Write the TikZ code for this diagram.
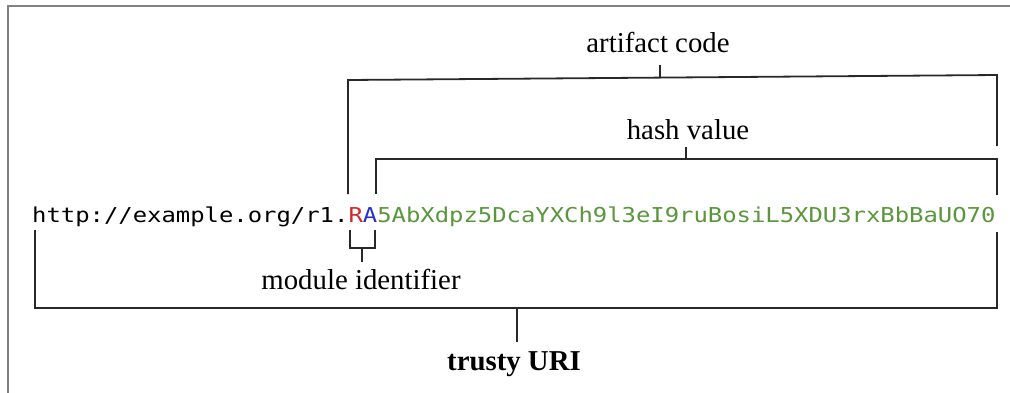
\documentclass[tikz,border=0pt]{standalone}
\usepackage{fontspec}
\setmainfont{Liberation Serif}
\newfontfamily\urifont{DejaVu Sans Mono}
\definecolor{modred}{RGB}{210,40,40}
\definecolor{modblue}{RGB}{40,50,200}
\definecolor{hashgreen}{RGB}{90,150,60}
\definecolor{framegray}{RGB}{130,130,130}
\definecolor{linegray}{RGB}{40,40,40}
\tikzset{
  brk/.style={draw=linegray, line width=1.8pt, line cap=butt, line join=miter},
  lbl/.style={inner sep=0pt, font=\fontsize{28.8}{32}\selectfont},
}
\begin{document}
\begin{tikzpicture}[x=1pt,y=-1pt]
\useasboundingbox (0,0) rectangle (1010,392);
\fill[white] (0,0) rectangle (1010,392);
\draw[framegray, line width=1.5pt] (8,400) -- (8,6) -- (1020,6);

% URI text
\node[anchor=base west, inner sep=0pt] (uri) at (32,222)
  {\scalebox{1.165}[1]{\urifont\fontsize{20.5}{24}\selectfont http://example.org/r1.\textcolor{modred}{R}\textcolor{modblue}{A}\textcolor{hashgreen}{5AbXdpz5DcaYXCh9l3eI9ruBosiL5XDU3rxBbBaUO70}}};

% labels
\node[lbl] (art) at (658,42) {artifact code};
\node[lbl] (hash) at (688,130) {hash value};
\node[lbl] (mod) at (361,279) {module identifier};
\node[lbl, font=\fontsize{28.8}{32}\selectfont\bfseries] (trusty) at (514,364) {trusty URI};

% artifact code bracket
\coordinate (a1) at (348,194);
\coordinate (a2) at (348,80);
\coordinate (a3) at (997,75);
\coordinate (a4) at (997,146);
\draw[brk] (a1) -- (a2) -- (a3) -- (a4);
\draw[brk] (660,78) -- (660,65);

% hash value bracket
\coordinate (h1) at (376,194);
\coordinate (h2) at (376,159);
\coordinate (h3) at (997,159);
\coordinate (h4) at (997,195);
\draw[brk] (h1) -- (h2) -- (h3) -- (h4);
\draw[brk] (686,159) -- (686,147);

% module identifier bracket
\coordinate (m1) at (350,230);
\coordinate (m2) at (350,248);
\coordinate (m3) at (375,248);
\coordinate (m4) at (375,230);
\draw[brk] (m1) -- (m2) -- (m3) -- (m4);
\draw[brk] (362,248) -- (362,262);

% trusty URI bracket
\coordinate (t1) at (35,230);
\coordinate (t2) at (35,308);
\coordinate (t3) at (997,308);
\coordinate (t4) at (997,232);
\draw[brk] (t1) -- (t2) -- (t3) -- (t4);
\draw[brk] (517,308) -- (517,342);
\end{tikzpicture}
\end{document}
